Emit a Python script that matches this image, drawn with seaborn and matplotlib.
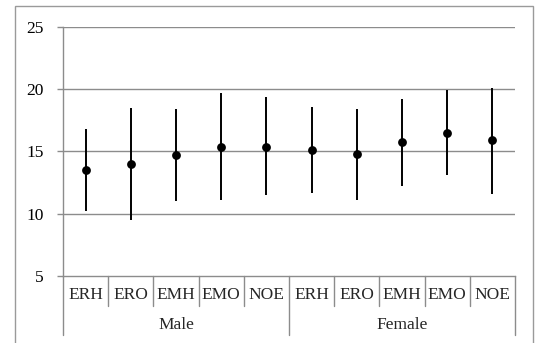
import numpy as np
import matplotlib
matplotlib.use("Agg")
import matplotlib.pyplot as plt
import matplotlib.transforms as mtransforms
from matplotlib.patches import Rectangle
import seaborn as sns
import pandas as pd

# data
groups = ["Male", "Female"]
categories = ["ERH", "ERO", "EMH", "EMO", "NOE"]
means = [13.5, 14.0, 14.7, 15.4, 15.4, 15.1, 14.8, 15.8, 16.5, 15.9]
lower = [10.2, 9.5, 11.0, 11.1, 11.5, 11.7, 11.1, 12.2, 13.1, 11.6]
upper = [16.8, 18.5, 18.4, 19.7, 19.4, 18.6, 18.4, 19.2, 19.9, 20.1]

df = pd.DataFrame({
    "group": np.repeat(groups, len(categories)),
    "cat": categories * len(groups),
    "mean": means,
    "lo": lower,
    "hi": upper,
})
df["pos"] = np.arange(len(df))

sns.set_style("white")
plt.rcParams["font.family"] = ["Liberation Serif", "DejaVu Serif"]

W, H = 535, 343
fig = plt.figure(figsize=(W / 100, H / 100), dpi=100)
ax = fig.add_axes([63 / W, (H - 276) / H, (515 - 63) / W, (276 - 27) / H])

grid_c = "#8c8c8c"
fs = 12.5

# outer frame
fig.patches.append(Rectangle((15 / W, -0.2), (533 - 15) / W, 1.2 - 6 / H,
                             transform=fig.transFigure, fill=False,
                             edgecolor="#9a9a9a", linewidth=1.0))

ax.vlines(df["pos"], df["lo"], df["hi"], color="black", linewidth=1.4, zorder=3)
sns.scatterplot(data=df, x="pos", y="mean", color="black", s=40,
                edgecolor="black", linewidth=0, ax=ax, zorder=4, legend=False)

ax.set_xlim(-0.5, len(df) - 0.5)
ax.set_ylim(5, 25)
ax.set_yticks([5, 10, 15, 20, 25])
for v in [10, 15, 20, 25]:
    ax.axhline(v, color=grid_c, linewidth=1.0, zorder=1)

for s in ["top", "right"]:
    ax.spines[s].set_visible(False)
ax.spines["left"].set_color(grid_c)
ax.spines["bottom"].set_color(grid_c)
ax.spines["left"].set_linewidth(1.0)
ax.spines["bottom"].set_linewidth(1.0)

ax.tick_params(axis="y", length=4, width=1.0, color=grid_c, labelsize=fs,
               pad=10, left=True, labelcolor="black")
ax.set_xticks([])
ax.set_xlabel("")
ax.set_ylabel("")

# two-level category axis
trans = mtransforms.blended_transform_factory(ax.transData, ax.transAxes)
px = 1 / (276 - 27)
for b in np.arange(0.5, len(df) - 0.5, 1.0):
    if b == 4.5:
        continue
    ax.plot([b, b], [0, -30 * px], transform=trans, color=grid_c,
            linewidth=1.0, clip_on=False)
for b in [-0.5, 4.5, 9.5]:
    ax.plot([b, b], [0, -59 * px], transform=trans, color=grid_c,
            linewidth=1.0, clip_on=False)

for _, r in df.iterrows():
    ax.text(r["pos"], -19 * px, r["cat"], transform=trans, ha="center",
            va="center", fontsize=fs)
for i, g in enumerate(groups):
    ax.text(i * 5 + 2, -49 * px, g, transform=trans, ha="center",
            va="center", fontsize=fs)

fig.savefig("out.png", dpi=100)
